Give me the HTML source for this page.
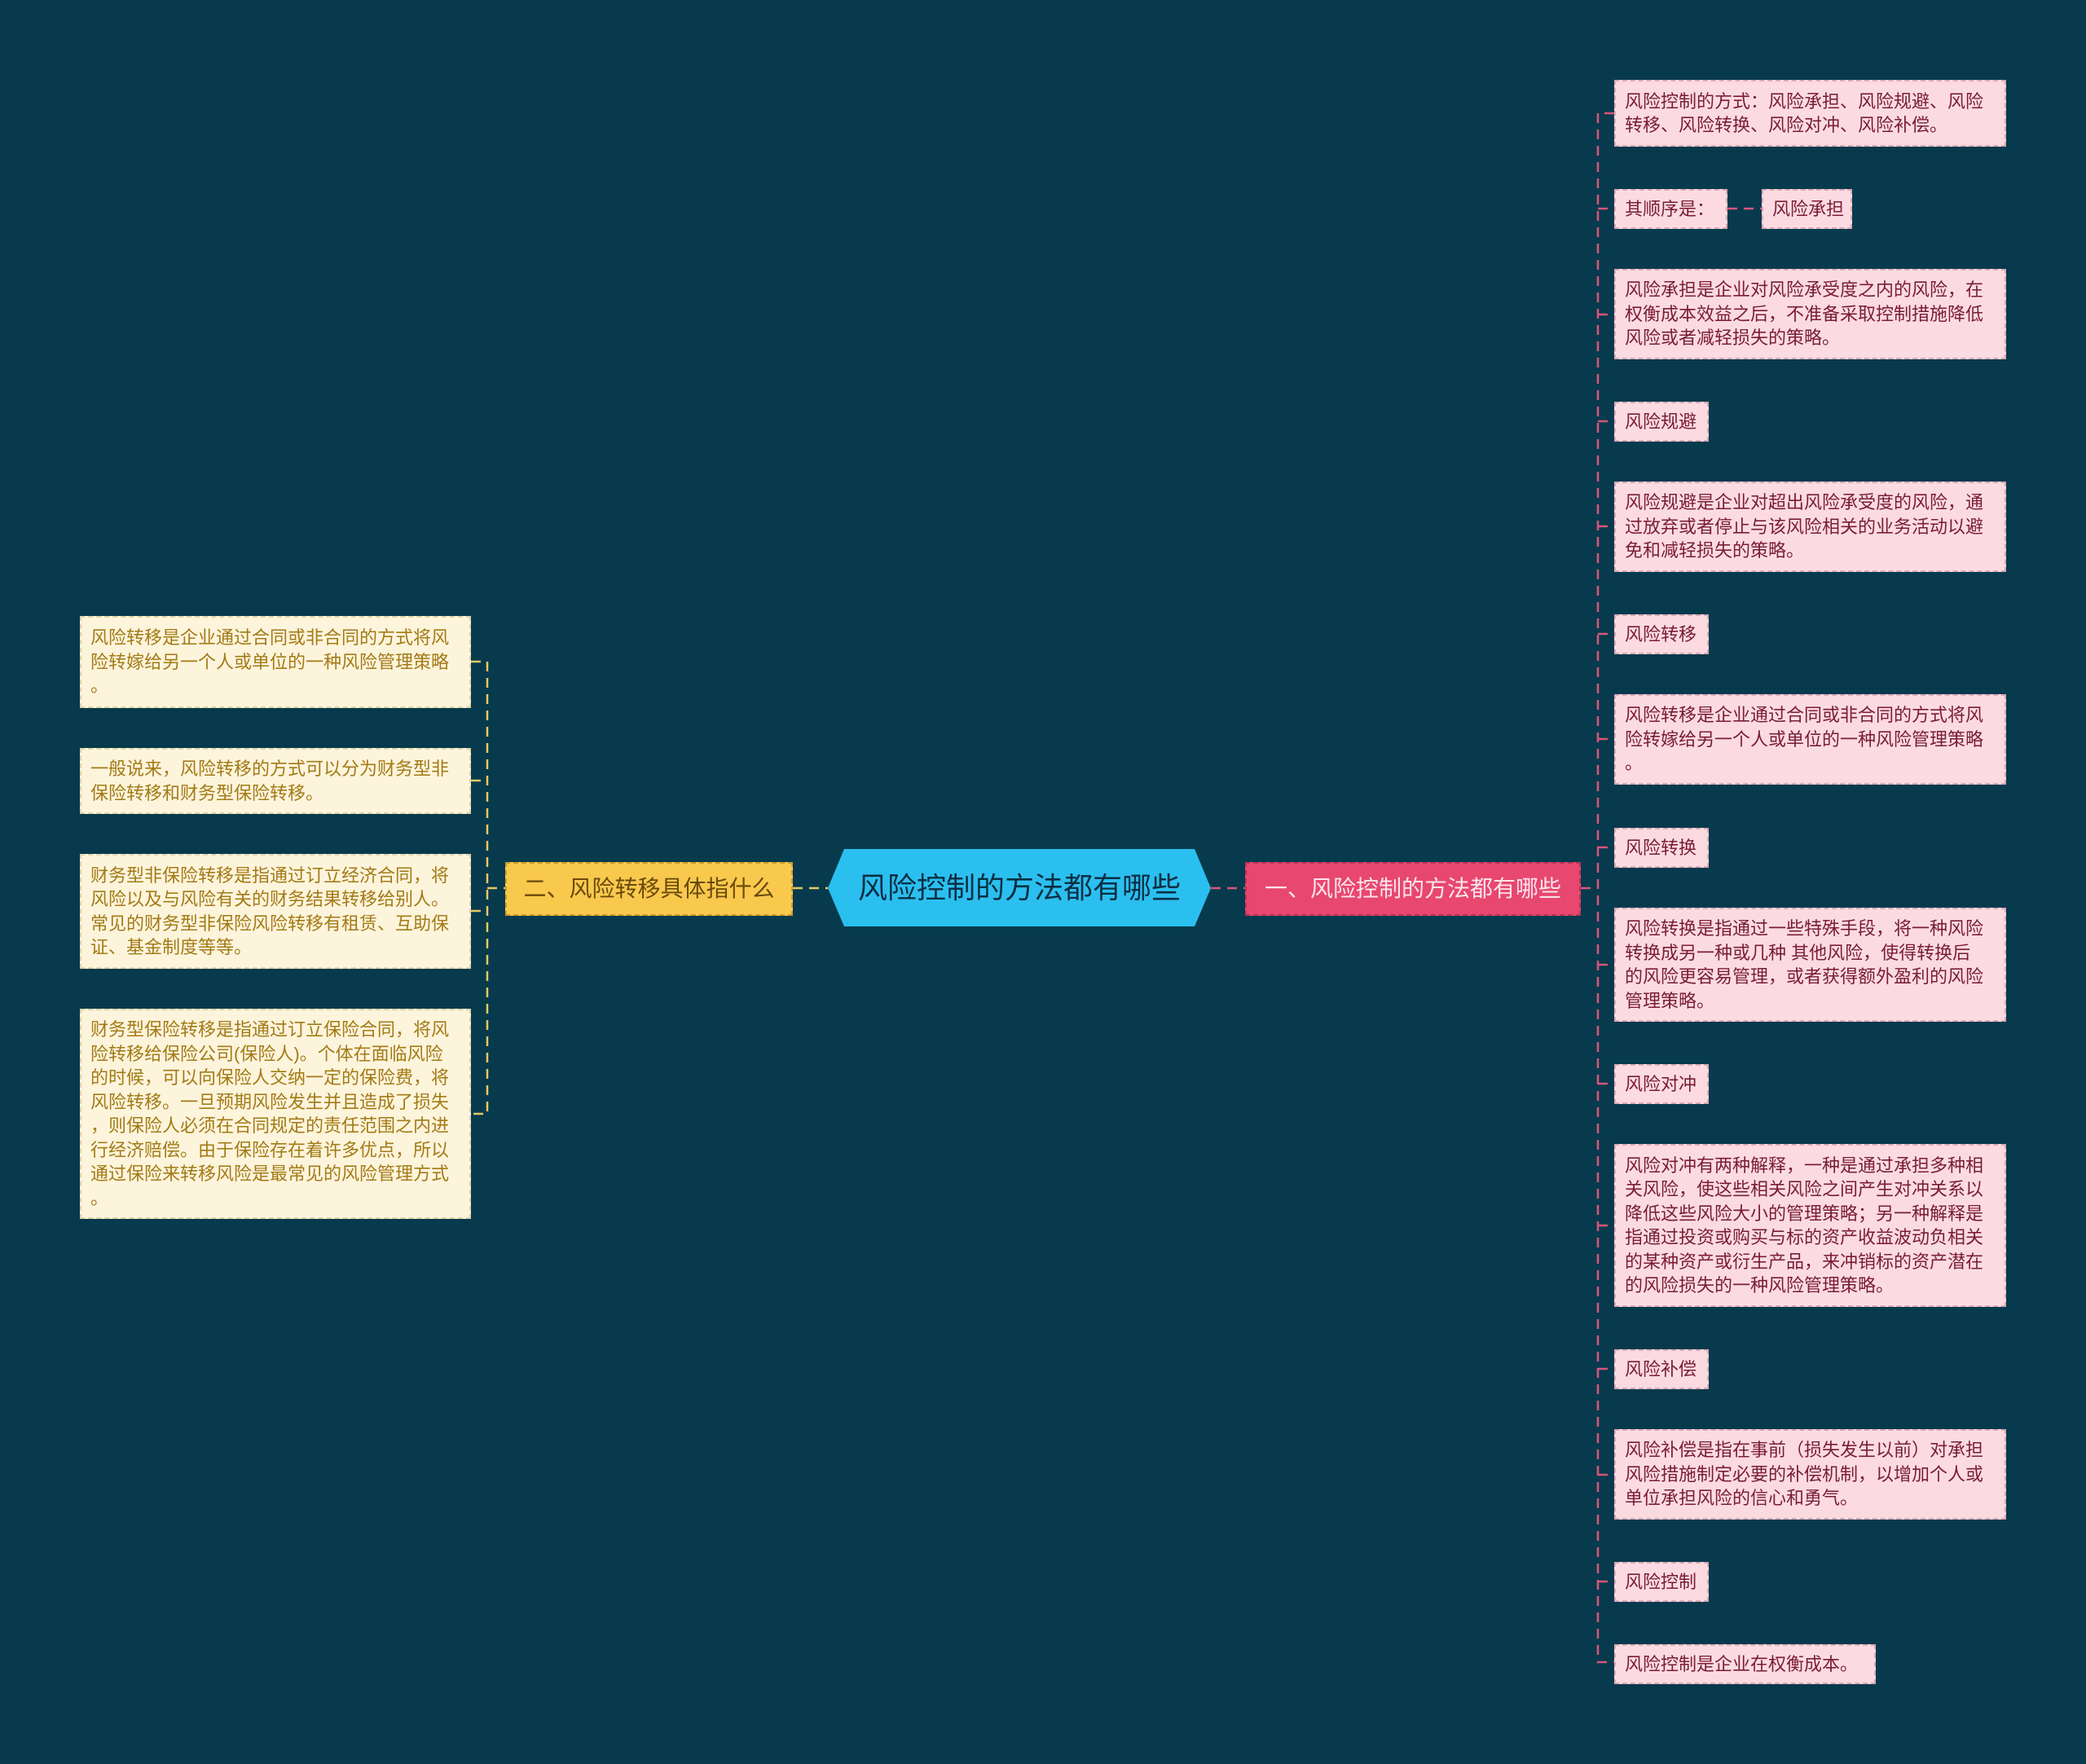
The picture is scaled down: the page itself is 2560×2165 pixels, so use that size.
<!DOCTYPE html>
<html><head><meta charset="utf-8"><style>
body{margin:0;width:2560px;height:2165px;background:#073a4d;position:relative;overflow:hidden;font-family:"Liberation Sans","Noto Sans CJK SC",sans-serif}
.b{position:absolute;box-sizing:border-box;font-size:22px;line-height:29.5px;padding:0 11px;display:flex;align-items:center;word-break:break-all;line-break:anywhere}
.n{white-space:nowrap}
.r{background:#fbdbe1;color:#7a1c35;border:2px dashed #d9a8b5}
.l{background:#fdf4dc;color:#a37b16;border:2px dashed #e0d2a8}
svg{position:absolute;left:0;top:0}
</style></head><body>
<svg width="2560" height="2165">
<g stroke="#d9557a" stroke-width="2.5" stroke-dasharray="12,8" fill="none">
<line x1="1486" y1="1090" x2="1528" y2="1090"/>
<line x1="1940" y1="1090" x2="1961" y2="1090"/>
<path d="M1981 139 H1961 V2040 H1981"/>
<line x1="1961" y1="256" x2="1981" y2="256"/>
<line x1="2120" y1="256" x2="2162" y2="256"/>
<line x1="1961" y1="386" x2="1981" y2="386"/>
<line x1="1961" y1="517" x2="1981" y2="517"/>
<line x1="1961" y1="646" x2="1981" y2="646"/>
<line x1="1961" y1="778" x2="1981" y2="778"/>
<line x1="1961" y1="907" x2="1981" y2="907"/>
<line x1="1961" y1="1040" x2="1981" y2="1040"/>
<line x1="1961" y1="1184" x2="1981" y2="1184"/>
<line x1="1961" y1="1330" x2="1981" y2="1330"/>
<line x1="1961" y1="1504" x2="1981" y2="1504"/>
<line x1="1961" y1="1680" x2="1981" y2="1680"/>
<line x1="1961" y1="1810" x2="1981" y2="1810"/>
<line x1="1961" y1="1941" x2="1981" y2="1941"/>
</g>
<g stroke="#e8c862" stroke-width="2.5" stroke-dasharray="12,8" fill="none">
<line x1="973" y1="1090" x2="1016" y2="1090"/>
<line x1="598" y1="1090" x2="620" y2="1090"/>
<path d="M578 812 H598 V1367 H578"/>
<line x1="578" y1="958" x2="598" y2="958"/>
<line x1="578" y1="1118" x2="598" y2="1118"/>
</g>
<polygon points="1036,1042 1466,1042 1486,1090 1466,1137 1036,1137 1016,1090" fill="#2bbfef"/>
<text x="1251" y="1102" font-size="36" fill="#0b2f45" text-anchor="middle" font-family="Liberation Sans, Noto Sans CJK SC, sans-serif">风险控制的方法都有哪些</text>
</svg>
<div class="b n" style="left:1528px;top:1058px;width:412px;height:66px;background:#e8476f;color:#fbe3ea;font-size:28px;border:2px dashed #b83358;justify-content:center">一、风险控制的方法都有哪些</div>
<div class="b n" style="left:620px;top:1058px;width:353px;height:66px;background:#f9c94e;color:#6b4a0a;font-size:28px;border:2px dashed #c99a2a;justify-content:center">二、风险转移具体指什么</div>

<div class="b r" style="left:1981px;top:98px;width:481px;height:82px">风险控制的方式：风险承担、风险规避、风险转移、风险转换、风险对冲、风险补偿。</div>
<div class="b r n" style="left:1981px;top:232px;width:139px;height:49px">其顺序是：</div>
<div class="b r n" style="left:2162px;top:232px;width:111px;height:49px">风险承担</div>
<div class="b r" style="left:1981px;top:330px;width:481px;height:111px">风险承担是企业对风险承受度之内的风险，在权衡成本效益之后，不准备采取控制措施降低风险或者减轻损失的策略。</div>
<div class="b r n" style="left:1981px;top:493px;width:116px;height:49px">风险规避</div>
<div class="b r" style="left:1981px;top:591px;width:481px;height:111px">风险规避是企业对超出风险承受度的风险，通过放弃或者停止与该风险相关的业务活动以避免和减轻损失的策略。</div>
<div class="b r n" style="left:1981px;top:754px;width:116px;height:49px">风险转移</div>
<div class="b r" style="left:1981px;top:852px;width:481px;height:111px">风险转移是企业通过合同或非合同的方式将风险转嫁给另一个人或单位的一种风险管理策略。</div>
<div class="b r n" style="left:1981px;top:1016px;width:116px;height:49px">风险转换</div>
<div class="b r" style="left:1981px;top:1114px;width:481px;height:140px"><div>风险转换是指通过一些特殊手段，将一种风险<br>转换成另一种或几种 其他风险，使得转换后<br>的风险更容易管理，或者获得额外盈利的风险<br>管理策略。</div></div>
<div class="b r n" style="left:1981px;top:1306px;width:116px;height:49px">风险对冲</div>
<div class="b r" style="left:1981px;top:1404px;width:481px;height:200px">风险对冲有两种解释，一种是通过承担多种相关风险，使这些相关风险之间产生对冲关系以降低这些风险大小的管理策略；另一种解释是指通过投资或购买与标的资产收益波动负相关的某种资产或衍生产品，来冲销标的资产潜在的风险损失的一种风险管理策略。</div>
<div class="b r n" style="left:1981px;top:1656px;width:116px;height:49px">风险补偿</div>
<div class="b r" style="left:1981px;top:1754px;width:481px;height:111px">风险补偿是指在事前（损失发生以前）对承担风险措施制定必要的补偿机制，以增加个人或单位承担风险的信心和勇气。</div>
<div class="b r n" style="left:1981px;top:1917px;width:116px;height:49px">风险控制</div>
<div class="b r n" style="left:1981px;top:2018px;width:321px;height:49px">风险控制是企业在权衡成本。</div>

<div class="b l" style="left:98px;top:756px;width:480px;height:113px">风险转移是企业通过合同或非合同的方式将风险转嫁给另一个人或单位的一种风险管理策略。</div>
<div class="b l" style="left:98px;top:918px;width:480px;height:81px">一般说来，风险转移的方式可以分为财务型非保险转移和财务型保险转移。</div>
<div class="b l" style="left:98px;top:1048px;width:480px;height:141px">财务型非保险转移是指通过订立经济合同，将风险以及与风险有关的财务结果转移给别人。常见的财务型非保险风险转移有租赁、互助保证、基金制度等等。</div>
<div class="b l" style="left:98px;top:1238px;width:480px;height:258px">财务型保险转移是指通过订立保险合同，将风险转移给保险公司(保险人)。个体在面临风险的时候，可以向保险人交纳一定的保险费，将风险转移。一旦预期风险发生并且造成了损失，则保险人必须在合同规定的责任范围之内进行经济赔偿。由于保险存在着许多优点，所以通过保险来转移风险是最常见的风险管理方式。</div>
</body></html>
